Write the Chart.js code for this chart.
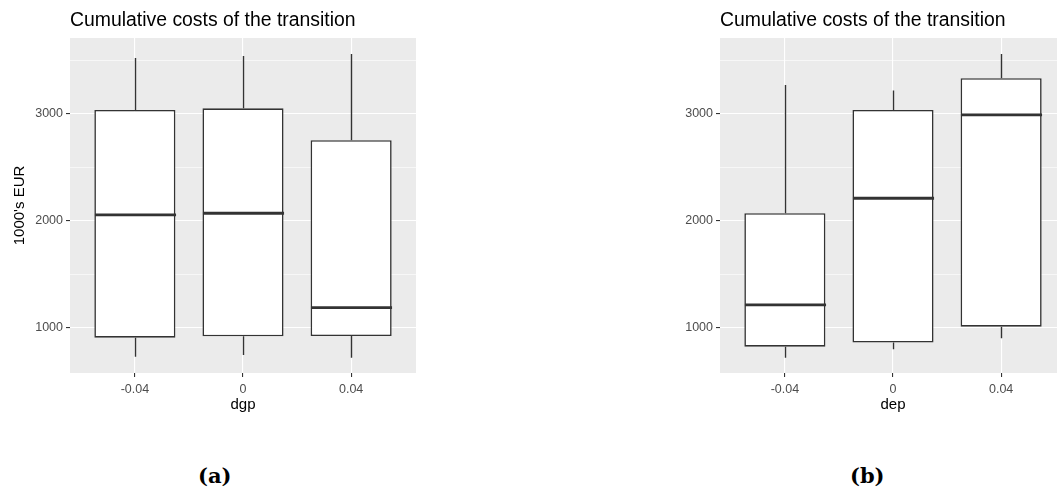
<!DOCTYPE html>
<html>
<head>
<meta charset="utf-8">
<script src="https://cdn.jsdelivr.net/npm/chart.js@4.4.0/dist/chart.umd.min.js"></script>
<style>
  html, body { margin: 0; padding: 0; background: #ffffff; overflow: hidden; width: 1057px; height: 497px; }
  canvas { position: absolute; top: 0; }
  #chartA { left: 0; }
  #chartB { left: 650px; }
  .panel-tag { position: absolute; top: 463px; font-family: 'DejaVu Serif', serif; font-weight: bold; font-size: 21px; color: #000; }
</style>
</head>
<body>
<canvas id="chartA" width="430" height="420"></canvas>
<canvas id="chartB" width="430" height="420"></canvas>
<div class="panel-tag" style="left:198px">(a)</div>
<div class="panel-tag" style="left:850px">(b)</div>

<script>
// categories (x tick labels), same for both panels
const categories = ['-0.04', '0', '0.04'];

// panel (a): dgp
const dgpMin = [732, 748, 722];
const dgpQ1 = [909, 922, 925];
const dgpMedian = [2056, 2072, 1190];
const dgpQ3 = [3037, 3053, 2754];
const dgpMax = [3523, 3542, 3561];

// panel (b): dep
const depMin = [722, 801, 904];
const depQ1 = [825, 863, 1012];
const depMedian = [1215, 2212, 2991];
const depQ3 = [2072, 3037, 3334];
const depMax = [3271, 3218, 3561];

// y axis
const yMajorTicks = [1000, 2000, 3000];
const yMinorTicks = [1500, 2500, 3500];
const yMin = 579;
const yMax = 3710;

const titleText = 'Cumulative costs of the transition';

Chart.defaults.font.family = "'Liberation Sans', Arial, sans-serif";

// grey panel background + whiskers + medians, all placed through the chart scales
const boxPlotExtras = {
    id: 'boxPlotExtras',
    beforeDraw(chart) {
        const { ctx, chartArea } = chart;
        ctx.save();
        ctx.fillStyle = '#EBEBEB';
        ctx.fillRect(chartArea.left, chartArea.top, chartArea.right - chartArea.left, chartArea.bottom - chartArea.top);
        ctx.restore();
    },
    afterDatasetsDraw(chart, args, opts) {
        const { ctx, scales: { x, y } } = chart;
        const bars = chart.getDatasetMeta(0).data;
        ctx.save();
        ctx.strokeStyle = '#333333';
        ctx.lineCap = 'butt';
        opts.min.forEach((v, i) => {
            const px = Math.round(x.getPixelForValue(i)) + 0.5;
            ctx.lineWidth = 1.4;
            ctx.beginPath();
            ctx.moveTo(px, y.getPixelForValue(opts.max[i]));
            ctx.lineTo(px, y.getPixelForValue(opts.q3[i]));
            ctx.moveTo(px, y.getPixelForValue(opts.q1[i]));
            ctx.lineTo(px, y.getPixelForValue(v));
            ctx.stroke();

            const half = bars[i].width / 2;
            const my = y.getPixelForValue(opts.median[i]);
            ctx.lineWidth = 2.8;
            ctx.beginPath();
            ctx.moveTo(px - half, my);
            ctx.lineTo(px + half, my);
            ctx.stroke();
        });
        ctx.restore();
    }
};

function makeBoxChart(canvasId, stats, xTitle, showYTitle) {
    const ctx = document.getElementById(canvasId).getContext('2d');

    const boxes = categories.map((c, i) => ({ x: i, y: [stats.q1[i], stats.q3[i]] }));

    return new Chart(ctx, {
        type: 'bar',
        data: {
            datasets: [{
                data: boxes,
                backgroundColor: '#ffffff',
                borderColor: '#333333',
                borderWidth: 1.6,
                borderSkipped: false,
                barPercentage: 0.75,
                categoryPercentage: 1
            }]
        },
        plugins: [boxPlotExtras],
        options: {
            responsive: false,
            animation: false,
            layout: { padding: { left: 0, right: 14, top: 0, bottom: 0 } },
            plugins: {
                legend: { display: false },
                tooltip: { enabled: false },
                title: {
                    display: true,
                    text: titleText,
                    align: 'start',
                    fullSize: false,
                    color: '#000000',
                    font: { size: 19.4, weight: 'normal' },
                    padding: { top: 9.4, bottom: 5.3 }
                },
                boxPlotExtras: stats
            },
            scales: {
                x: {
                    type: 'linear',
                    min: -0.6,
                    max: 2.6,
                    offset: false,
                    afterBuildTicks: scale => {
                        scale.ticks = categories.map((c, i) => ({ value: i }));
                    },
                    afterFit: scale => { scale.height = 47; },
                    ticks: {
                        callback: value => categories[value],
                        color: '#4D4D4D',
                        font: { size: 12.5 },
                        padding: 5,
                        maxRotation: 0,
                        autoSkip: false
                    },
                    grid: {
                        offset: false,
                        color: '#ffffff',
                        lineWidth: 1.1,
                        tickColor: '#333333',
                        tickLength: 4,
                        tickWidth: 1.1
                    },
                    border: { display: false },
                    title: {
                        display: true,
                        text: xTitle,
                        color: '#000000',
                        font: { size: 15 },
                        padding: { top: 0, bottom: 6 }
                    }
                },
                y: {
                    min: yMin,
                    max: yMax,
                    afterBuildTicks: scale => {
                        scale.ticks = yMajorTicks.concat(yMinorTicks).sort((a, b) => a - b).map(v => ({ value: v }));
                    },
                    afterFit: scale => { scale.width = 70; },
                    ticks: {
                        callback: value => yMajorTicks.includes(value) ? String(value) : '',
                        color: '#4D4D4D',
                        font: { size: 12.5 },
                        padding: 3
                    },
                    grid: {
                        color: '#ffffff',
                        lineWidth: c => yMajorTicks.includes(c.tick.value) ? 1.1 : 0.6,
                        tickColor: c => yMajorTicks.includes(c.tick.value) ? '#333333' : 'rgba(0,0,0,0)',
                        tickLength: 4,
                        tickWidth: 1.1
                    },
                    border: { display: false },
                    title: {
                        display: showYTitle,
                        text: "1000's EUR",
                        color: '#000000',
                        font: { size: 15 },
                        padding: { top: 11, bottom: 0 }
                    }
                }
            }
        }
    });
}

document.addEventListener('DOMContentLoaded', function () {
    makeBoxChart('chartA', { min: dgpMin, q1: dgpQ1, median: dgpMedian, q3: dgpQ3, max: dgpMax }, 'dgp', true);
    makeBoxChart('chartB', { min: depMin, q1: depQ1, median: depMedian, q3: depQ3, max: depMax }, 'dep', false);
});
</script>
</body>
</html>
